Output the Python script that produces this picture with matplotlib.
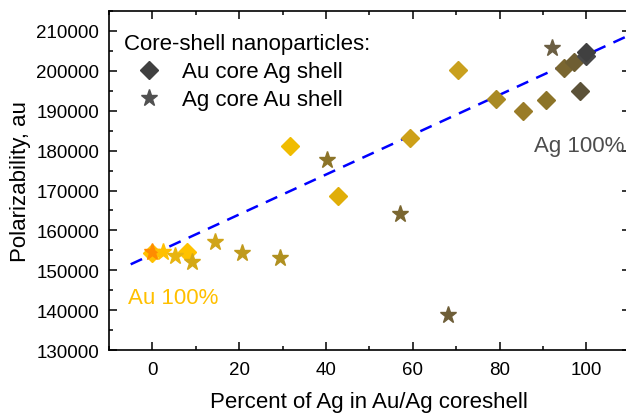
import matplotlib
matplotlib.use('Agg')
import matplotlib.pyplot as plt
from matplotlib.ticker import MultipleLocator

plt.rcParams['font.family'] = ['Liberation Sans', 'DejaVu Sans']

# Au core / Ag shell particles (diamonds)
au_core_x = [0, 8.0, 31.6, 42.8, 59.3, 70.3, 79.2, 85.4, 90.7, 94.8, 97.2, 98.5, 99.8, 100]
au_core_y = [154300, 154600, 181200, 168600, 183100, 200200, 192900, 189900,
             192800, 200800, 202100, 194900, 203700, 204800]
au_core_colors = ['#FFC000', '#FFC200', '#F0BC00', '#E0AE08', '#CDA018', '#C9A01E',
                  '#A98A24', '#9A7C28', '#8C7428', '#7A6630', '#6E5E32', '#5C5238',
                  '#484848', '#404040']

# Ag core / Au shell particles (stars)
ag_core_x = [0, 2.5, 5.3, 9.1, 14.5, 20.6, 29.4, 40.2, 57.0, 68.1, 92.1]
ag_core_y = [154500, 154600, 153500, 152000, 157100, 154400, 153000, 177600,
             164200, 138800, 205800]
ag_core_colors = ['#FF8C00', '#FFC000', '#E8B410', '#D4A816', '#D0A418', '#C09A1C',
                  '#B09020', '#8C7428', '#7A6630', '#6E5E38', '#6B5E42']

# linear trend end points
fit_x = [-5, 110]
fit_y = [151500, 209000]

fig = plt.figure(figsize=(6.26, 4.14), dpi=100)
ax = fig.add_axes([0.1741, 0.152, 0.832, 0.819])

ax.plot(fit_x, fit_y, color='blue', lw=1.8, linestyle=(0, (5, 3.5)), zorder=2)

for x, y, c in zip(au_core_x, au_core_y, au_core_colors):
    ax.plot(x, y, marker='D', ms=9, color=c, mec=c, ls='none', zorder=3)
for x, y, c in zip(ag_core_x, ag_core_y, ag_core_colors):
    ax.plot(x, y, marker='*', ms=12.5, color=c, mec=c, ls='none', zorder=4)

# legend handles
h1, = ax.plot([], [], marker='D', ms=9, color='#404040', ls='none')
h2, = ax.plot([], [], marker='*', ms=12.5, color='#505050', ls='none')
leg = ax.legend([h1, h2], ['Au core Ag shell', 'Ag core Au shell'],
                title='Core-shell nanoparticles:', title_fontsize=16, fontsize=16,
                loc='upper left', bbox_to_anchor=(-0.0134, 1.0), frameon=False,
                alignment='left', handlelength=2.2, handletextpad=0.4,
                labelspacing=0.32, borderaxespad=0.6, borderpad=0.4)

ax.text(-5.7, 143300, 'Au 100%', color='#FFC000', fontsize=16, va='center', ha='left')
ax.text(88, 181300, 'Ag 100%', color='#4D4D4D', fontsize=16, va='center', ha='left')

ax.set_xlim(-10, 110)
ax.set_ylim(130000, 215000)
ax.xaxis.set_major_locator(MultipleLocator(20))
ax.xaxis.set_minor_locator(MultipleLocator(10))
ax.yaxis.set_major_locator(MultipleLocator(10000))
ax.yaxis.set_minor_locator(MultipleLocator(5000))

ax.tick_params(which='both', direction='in', top=True, right=True, width=1.1)
ax.tick_params(which='major', length=6, labelsize=13.5)
ax.tick_params(axis='y', which='major', pad=7)
ax.tick_params(axis='x', which='major', pad=8)
ax.tick_params(which='minor', length=3)
for s in ax.spines.values():
    s.set_linewidth(1.2)

ax.set_xlabel('Percent of Ag in Au/Ag coreshell', fontsize=16, labelpad=9)
ax.set_ylabel('Polarizability, au', fontsize=16, labelpad=4)

fig.savefig('out.png', dpi=100)
